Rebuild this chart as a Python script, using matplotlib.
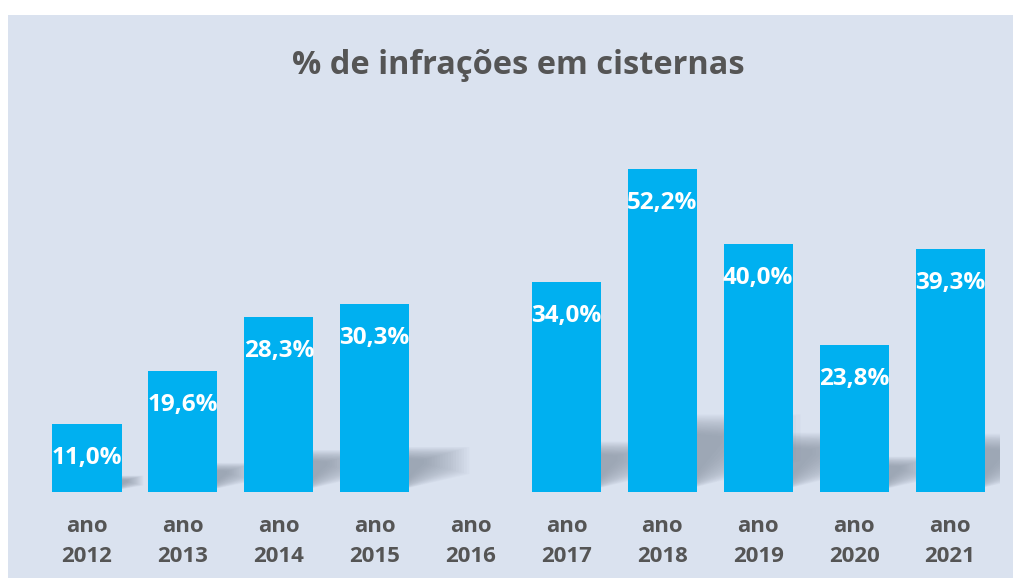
import matplotlib
matplotlib.use("Agg")
import matplotlib.pyplot as plt
from matplotlib.patches import Rectangle, Polygon
import numpy as np

years = ["2012", "2013", "2014", "2015", "2016", "2017", "2018", "2019", "2020", "2021"]
values = [11.0, 19.6, 28.3, 30.3, None, 34.0, 52.2, 40.0, 23.8, 39.3]
title = "% de infrações em cisternas"

W, H = 1013, 578
fig = plt.figure(figsize=(W / 100, H / 100), dpi=100)
fig.patch.set_facecolor("white")

ax = fig.add_axes([0, 0, 1, 1])
ax.patch.set_alpha(0)
ax.axis("off")
ax.add_patch(Rectangle((8 / W, 0), 1 - 8 / W, 563 / H, transform=fig.transFigure,
                       facecolor="#dae2ef", edgecolor="none", zorder=0))
# pixel -> data mapping
px_per_x = 95.9
px_per_y = 6.19
x0px, y0px = 87, 492
ax.set_xlim((0 - x0px) / px_per_x, (W - x0px) / px_per_x)
ax.set_ylim((y0px - H) / px_per_y, y0px / px_per_y)

bar_color = "#00b0f0"
text_gray = "#555555"
bw = 0.72
font = "Open Sans"

clip = Rectangle((0, 0), 1000 / W, 1, transform=fig.transFigure, facecolor="none",
                 edgecolor="none")
ax.add_patch(clip)

xs = np.arange(len(years))
# shadows
for x, v in zip(xs, values):
    if v is None:
        continue
    dx = 0.0207 * v
    dy = 0.24 * v
    xr = x + bw / 2
    n = 18
    for i in range(n):
        t = i / n
        f = 1 - 0.8 * t
        poly = [(xr - 0.15, 0.02 * dy),
                (xr + dx * f, 0.4 * dy + 0.25 * t * dy),
                (xr + dx * f, dy * (1 - 0.3 * t)),
                (xr - 0.15, dy * (1 - 0.25 * t))]
        p = Polygon(poly, closed=True, facecolor="#6f7a8a", edgecolor="none",
                    alpha=0.04, zorder=1)
        ax.add_patch(p)
        p.set_clip_path(clip)

for x, v in zip(xs, values):
    if v is None:
        continue
    ax.bar(x, v, width=bw, color=bar_color, zorder=2)
    ax.text(x, v - 34 / px_per_y, f"{v:.1f}%".replace(".", ","), ha="center", va="center",
            color="white", fontsize=17.5, fontweight="bold", family=font, zorder=3)

for x, y in zip(xs, years):
    ax.text(x, (y0px - 526) / px_per_y, "ano", ha="center", va="center", color=text_gray,
            fontsize=16, fontweight="bold", family=font)
    ax.text(x, (y0px - 556) / px_per_y, y, ha="center", va="center", color=text_gray,
            fontsize=16, fontweight="bold", family=font)

fig.text(518 / W, 1 - 65 / H, title, ha="center", va="center", color=text_gray,
         fontsize=23.4, fontweight="bold", family=font)

fig.savefig("out.png", dpi=100)
